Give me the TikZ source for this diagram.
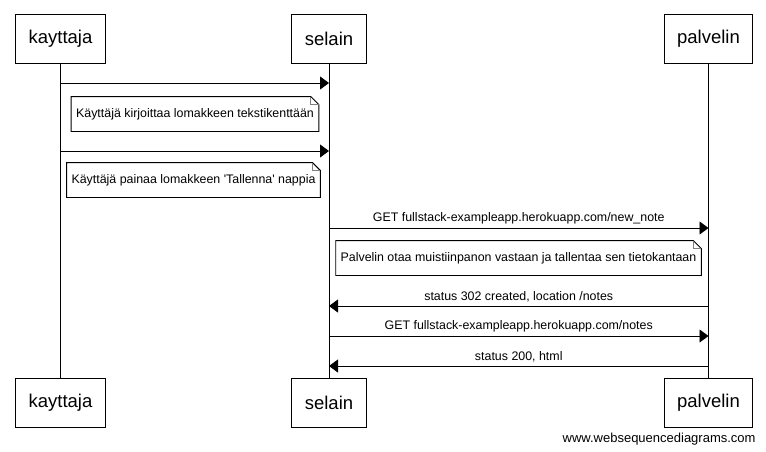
\documentclass[tikz,border=0pt]{standalone}
\usepackage{fontspec}
\setmainfont{Liberation Sans}
\usetikzlibrary{arrows.meta}

\tikzset{
  actor/.style={draw, minimum height=49pt, inner xsep=13pt, font=\fontsize{18.5}{22}\selectfont},
  msg/.style={-{Triangle[length=9pt,width=13pt]}},
  lbl/.style={above=1pt, inner sep=2pt, font=\fontsize{12.4}{15}\selectfont},
  notebox/.style={minimum height=34pt, inner xsep=4.5pt, font=\fontsize{12.4}{15}\selectfont},
}

\begin{document}
\begin{tikzpicture}[x=1pt, y=-1pt, line width=0.9pt]
\useasboundingbox (0,0) rectangle (766,451);
% participants, top and bottom
\node[actor] (kt) at (60.5,38.5) {kayttaja};
\node[actor] (st) at (329,38.5) {selain};
\node[actor] (pt) at (708.5,38.5) {palvelin};
\node[actor] (kb) at (60.5,403) {kayttaja};
\node[actor] (sb) at (329,403) {selain};
\node[actor] (pb) at (708.5,403) {palvelin};
% lifelines
\draw (kt) -- (kb);
\draw (st) -- (sb);
\draw (pt) -- (pb);
% message rows
\foreach \r/\y in {1/83, 2/151, 3/228, 4/306, 5/336, 6/366} {
  \coordinate (k\r) at (kt |- 0,\y);
  \coordinate (s\r) at (st |- 0,\y);
  \coordinate (p\r) at (pt |- 0,\y);
}
\draw[msg] (k1) -- (s1);
\draw[msg] (k2) -- (s2);
\draw[msg] (s3) -- (p3) node[midway, lbl] {GET fullstack-exampleapp.herokuapp.com/new\_note};
\draw[msg] (p4) -- (s4) node[midway, lbl] {status 302 created, location /notes};
\draw[msg] (s5) -- (p5) node[midway, lbl] {GET fullstack-exampleapp.herokuapp.com/notes};
\draw[msg] (p6) -- (s6) node[midway, lbl] {status 200, html};
% notes
\node[notebox, minimum width=246pt] (n1) at (195,114) {Käyttäjä kirjoittaa lomakkeen tekstikenttään};
\node[notebox, minimum width=249pt] (n2) at (193.5,180) {Käyttäjä painaa lomakkeen \textquotesingle Tallenna\textquotesingle{} nappia};
\node[notebox, minimum width=361pt] (n3) at (518.5,258) {Palvelin otaa muistiinpanon vastaan ja tallentaa sen tietokantaan};
\foreach \n in {n1, n2, n3} {
  \draw (\n.north west) -- ([xshift=-8pt]\n.north east) -- ([yshift=-8pt]\n.north east)
    -- (\n.south east) -- (\n.south west) -- cycle;
  \draw[gray] ([xshift=-8pt]\n.north east) |- ([yshift=-8pt]\n.north east);
}
\node[anchor=east, inner sep=0pt, font=\fontsize{13}{15}\selectfont] (web) at (756,439) {www.websequencediagrams.com};
\end{tikzpicture}
\end{document}
